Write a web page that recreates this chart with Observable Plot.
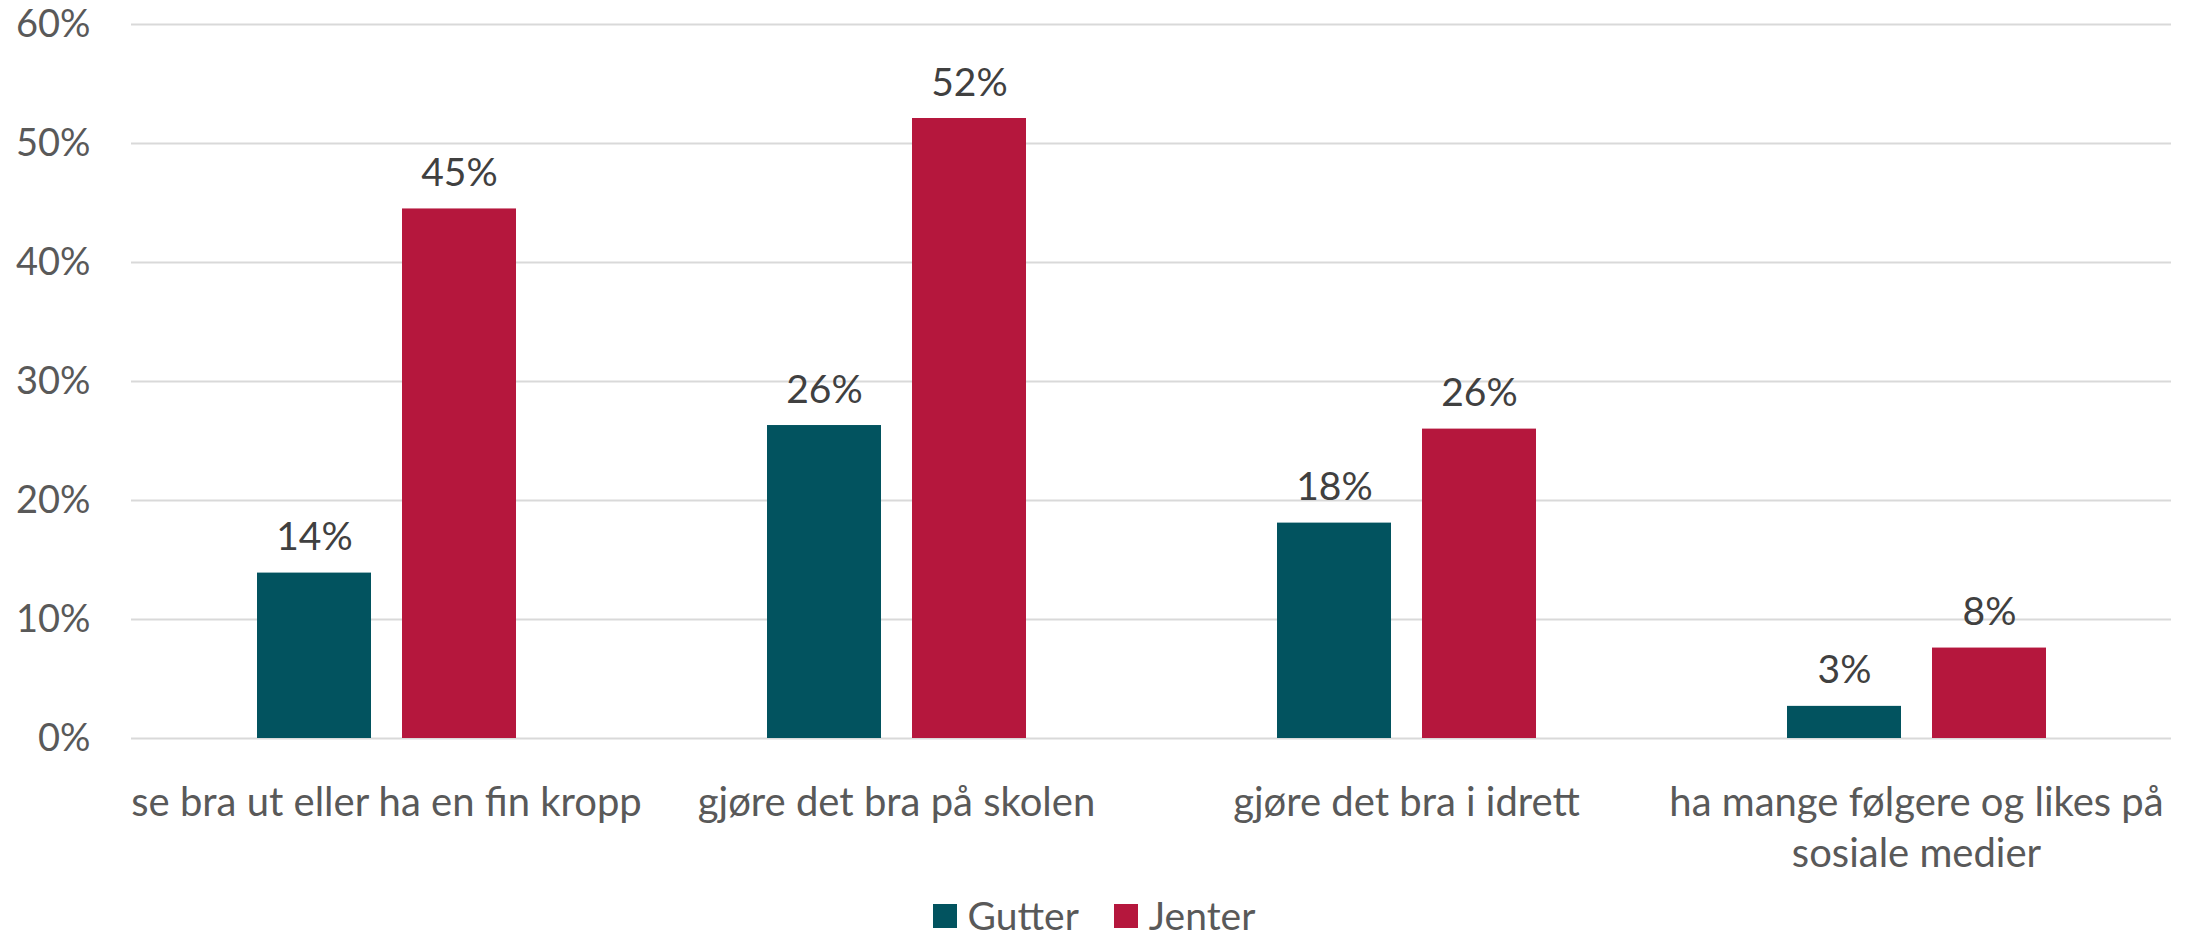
<!DOCTYPE html>
<html>
<head>
<meta charset="utf-8">
<script src="https://cdn.jsdelivr.net/npm/d3@7"></script>
<script src="https://cdn.jsdelivr.net/npm/@observablehq/plot@0.6"></script>
<style>
  html, body { margin: 0; padding: 0; background: #fff; }
  #chart { width: 2188px; }
  .lg-swatches { justify-content: center !important; font-family: Lato, sans-serif; font-size: 39px; line-height: 1; color: #595959; min-height: 38px !important; margin-top: 0 !important; }
  .lg-swatch > svg { margin-right: 11px !important; }
  .lg-swatch { margin-right: 35px !important; }
  .lg-swatch:last-child { margin-right: 0 !important; }
</style>
</head>
<body>
<div id="chart"></div>
<script>
const categories = [
  "se bra ut eller ha en fin kropp",
  "gjøre det bra på skolen",
  "gjøre det bra i idrett",
  "ha mange følgere og likes på sosiale medier"
];
const categoryLabels = [
  "se bra ut eller ha en fin kropp",
  "gjøre det bra på skolen",
  "gjøre det bra i idrett",
  "ha mange følgere og likes på\nsosiale medier"
];
const series = ["Gutter", "Jenter"];
const gutter = [13.9, 26.3, 18.1, 2.7];
const jenter = [44.5, 52.1, 26.0, 7.6];
const yTicks = [0, 10, 20, 30, 40, 50, 60];
const colors = ["#02535f", "#b5173d"];

const data = [];
categories.forEach((c, i) => {
  data.push({cat: c, series: "Gutter", value: gutter[i]});
  data.push({cat: c, series: "Jenter", value: jenter[i]});
});

const plot = Plot.plot({
  width: 2188,
  height: 896,
  marginLeft: 130,
  marginRight: 17,
  marginTop: 24,
  marginBottom: 158,
  style: {fontFamily: "Lato, sans-serif", fontSize: "38px", color: "#595959", background: "#fff"},
  fx: {domain: categories, padding: 0, label: null},
  x: {domain: series, paddingInner: 0.2138, paddingOuter: 0.8655, axis: null},
  y: {domain: [0, 60], label: null},
  color: {domain: series, range: colors},
  marks: [
    Plot.gridY(yTicks, {stroke: "#d9d9d9", strokeWidth: 2, strokeOpacity: 1}),
    Plot.axisY(yTicks, {tickSize: 0, tickPadding: 41, tickFormat: d => d + "%", label: null, fill: "#595959", fontSize: 38}),
    Plot.axisFx({anchor: "bottom", tickSize: 0, tickPadding: 41, label: null,
      tickFormat: d => categoryLabels[categories.indexOf(d)], lineHeight: 1.28, fill: "#595959", fontSize: 40}),
    Plot.barY(data, {fx: "cat", x: "series", y: "value", fill: "series"}),
    Plot.text(data, {fx: "cat", x: "series", y: "value", text: d => Math.round(d.value) + "%",
      lineAnchor: "bottom", dy: -23, fill: "#404040", fontSize: 39})
  ]
});
document.getElementById("chart").appendChild(plot);

const legend = Plot.legend({
  color: {domain: series, range: colors},
  legend: "swatches",
  swatchSize: 24,
  className: "lg"
});
document.getElementById("chart").appendChild(legend);
</script>
</body>
</html>
